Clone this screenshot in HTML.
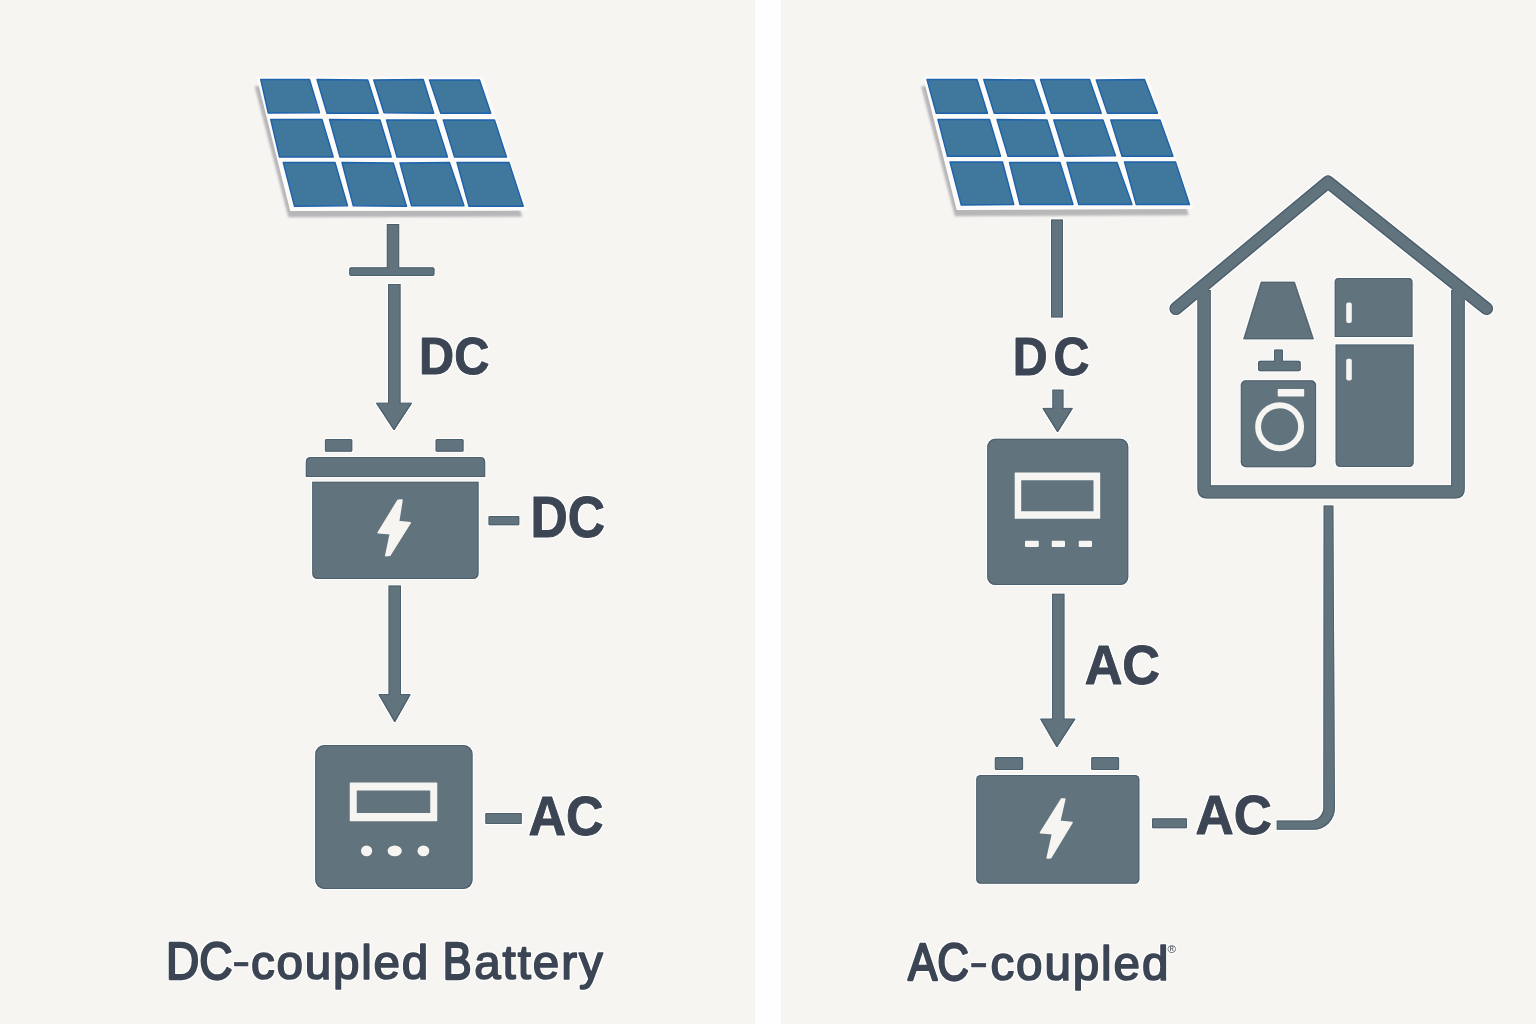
<!DOCTYPE html>
<html lang="en">
<head>
<meta charset="utf-8">
<title>DC-coupled vs AC-coupled Battery</title>
<style>
html,body{margin:0;padding:0;background:#f6f5f2;}
body{width:1536px;height:1024px;overflow:hidden;}
svg{display:block;}
text{font-family:"Liberation Sans",sans-serif;}
</style>
</head>
<body>
<svg width="1536" height="1024" viewBox="0 0 1536 1024">
<defs>
<filter id="soft" x="-10%" y="-10%" width="120%" height="120%"><feGaussianBlur stdDeviation="0.9"/></filter>
<filter id="halo" filterUnits="userSpaceOnUse" x="0" y="0" width="1536" height="1024" color-interpolation-filters="sRGB">
<feMorphology in="SourceAlpha" operator="dilate" radius="1.2" result="d"/>
<feGaussianBlur in="d" stdDeviation="0.7" result="db"/>
<feFlood flood-color="#ffffff" flood-opacity="0.95"/>
<feComposite in2="db" operator="in" result="h"/>
<feMorphology in="SourceAlpha" operator="erode" radius="0.6" result="e"/>
<feGaussianBlur in="e" stdDeviation="0.5" result="eb"/>
<feComposite in="SourceAlpha" in2="eb" operator="out" result="edge"/>
<feFlood flood-color="#3c4f5e" flood-opacity="0.55"/>
<feComposite in2="edge" operator="in" result="ec"/>
<feMerge><feMergeNode in="h"/><feMergeNode in="SourceGraphic"/><feMergeNode in="ec"/></feMerge>
</filter>
<filter id="thalo" filterUnits="userSpaceOnUse" x="0" y="0" width="1536" height="1024" color-interpolation-filters="sRGB">
<feMorphology in="SourceAlpha" operator="dilate" radius="1.2" result="d"/>
<feGaussianBlur in="d" stdDeviation="0.7" result="db"/>
<feFlood flood-color="#ffffff" flood-opacity="0.95"/>
<feComposite in2="db" operator="in" result="h"/>
<feMerge><feMergeNode in="h"/><feMergeNode in="SourceGraphic"/></feMerge>
</filter>
</defs>
<rect x="0" y="0" width="1536" height="1024" fill="#f6f5f2"/>
<rect x="755" y="0" width="26" height="1024" fill="#fefefe"/>
<g id="panels">
<polygon points="255.9,87 475.5,87 521,215.7 289.1,216.2" fill="#b7b6b9" stroke="#b7b6b9" stroke-width="2" stroke-linejoin="round" filter="url(#soft)"/>
<polygon points="258.5,78 481.5,78 525,209 291.5,209.5" fill="#fdfcfa" stroke="#fdfcfa" stroke-width="3.2" stroke-linejoin="round"/>
<polygon points="260.75,79.5 309.5,79.5 319.5,112.75 268.25,113" fill="#40779c" stroke="#1d62ad" stroke-width="1.4" stroke-linejoin="round"/>
<polygon points="317,79.5 367.75,80 378.25,113.25 327,113.25" fill="#40779c" stroke="#1d62ad" stroke-width="1.4" stroke-linejoin="round"/>
<polygon points="373.75,80 423.25,79.5 433.75,113.25 384,112.75" fill="#40779c" stroke="#1d62ad" stroke-width="1.4" stroke-linejoin="round"/>
<polygon points="429.5,80 479.5,80 490.75,113.25 440.75,113.25" fill="#40779c" stroke="#1d62ad" stroke-width="1.4" stroke-linejoin="round"/>
<polygon points="270.75,119.5 322,119.5 333.25,157 279.5,157" fill="#40779c" stroke="#1d62ad" stroke-width="1.4" stroke-linejoin="round"/>
<polygon points="329.5,119.5 380,120 391.25,157 340,157" fill="#40779c" stroke="#1d62ad" stroke-width="1.4" stroke-linejoin="round"/>
<polygon points="386.5,120 435.75,120 447.5,157 397,157" fill="#40779c" stroke="#1d62ad" stroke-width="1.4" stroke-linejoin="round"/>
<polygon points="443.25,120 494.5,120 506.5,157 454.5,157" fill="#40779c" stroke="#1d62ad" stroke-width="1.4" stroke-linejoin="round"/>
<polygon points="283.25,162.5 335,162.5 347.5,205.75 294.5,206.25" fill="#40779c" stroke="#1d62ad" stroke-width="1.4" stroke-linejoin="round"/>
<polygon points="342,162.5 393.25,163 406.5,206.25 353.25,205.75" fill="#40779c" stroke="#1d62ad" stroke-width="1.4" stroke-linejoin="round"/>
<polygon points="400,163 449.5,162.5 464,205.75 411.5,205.75" fill="#40779c" stroke="#1d62ad" stroke-width="1.4" stroke-linejoin="round"/>
<polygon points="457,162.5 509,162.5 523.25,206.25 469,206.25" fill="#40779c" stroke="#1d62ad" stroke-width="1.4" stroke-linejoin="round"/>
<polygon points="922.4,87 1140.5,87 1187.5,214.2 955.6,215.2" fill="#b7b6b9" stroke="#b7b6b9" stroke-width="2" stroke-linejoin="round" filter="url(#soft)"/>
<polygon points="925,78 1146.5,78 1191.5,207.5 958,208.5" fill="#fdfcfa" stroke="#fdfcfa" stroke-width="3.2" stroke-linejoin="round"/>
<polygon points="927,79.5 977,79.5 987.5,113.25 936.25,113.25" fill="#40779c" stroke="#1d62ad" stroke-width="1.4" stroke-linejoin="round"/>
<polygon points="983.75,79.5 1033.75,80 1045,113.25 994.25,113.25" fill="#40779c" stroke="#1d62ad" stroke-width="1.4" stroke-linejoin="round"/>
<polygon points="1040.5,79.5 1089.5,79.5 1101.25,113.25 1051.25,113.25" fill="#40779c" stroke="#1d62ad" stroke-width="1.4" stroke-linejoin="round"/>
<polygon points="1096.25,80 1144.5,79.5 1157.5,113.25 1107.5,113.25" fill="#40779c" stroke="#1d62ad" stroke-width="1.4" stroke-linejoin="round"/>
<polygon points="938,119.5 989.5,119.5 1000.5,156.25 947.5,156.25" fill="#40779c" stroke="#1d62ad" stroke-width="1.4" stroke-linejoin="round"/>
<polygon points="997,119.5 1047,120 1058.25,156.25 1008,156.25" fill="#40779c" stroke="#1d62ad" stroke-width="1.4" stroke-linejoin="round"/>
<polygon points="1053.75,120 1103,120 1115.5,155.75 1065,156.25" fill="#40779c" stroke="#1d62ad" stroke-width="1.4" stroke-linejoin="round"/>
<polygon points="1110.75,120 1160,120 1173,156.25 1122,156.25" fill="#40779c" stroke="#1d62ad" stroke-width="1.4" stroke-linejoin="round"/>
<polygon points="950,162 1002.5,162 1013.75,204.5 961.25,205" fill="#40779c" stroke="#1d62ad" stroke-width="1.4" stroke-linejoin="round"/>
<polygon points="1009.5,162.5 1060,162.5 1073,204.5 1020,204.5" fill="#40779c" stroke="#1d62ad" stroke-width="1.4" stroke-linejoin="round"/>
<polygon points="1067,162.5 1117,162.5 1132,204.5 1078.75,204.5" fill="#40779c" stroke="#1d62ad" stroke-width="1.4" stroke-linejoin="round"/>
<polygon points="1124.5,162 1175.5,162 1189.5,204.5 1136.25,204.5" fill="#40779c" stroke="#1d62ad" stroke-width="1.4" stroke-linejoin="round"/>
</g>
<g id="icons" filter="url(#halo)">
<rect x="386.8" y="224" width="12.4" height="46" fill="#61737d"/>
<rect x="349.2" y="267.2" width="85.3" height="8.7" rx="2" fill="#61737d"/>
<rect x="388" y="284" width="12.6" height="120.3" fill="#61737d"/>
<polygon points="376.4,403.2 411.6,403.2 394,430" fill="#61737d" stroke="#61737d" stroke-width="1" stroke-linejoin="round"/>
<rect x="324.9" y="439" width="27.4" height="12.8" rx="1.5" fill="#61737d"/>
<rect x="435.6" y="439" width="28" height="12.8" rx="1.5" fill="#61737d"/>
<path d="M305.8,477 V462 Q305.8,457 310.8,457 H480.2 Q485.2,457 485.2,462 V477 Z" fill="#61737d"/>
<path d="M312.2,481.8 H478.6 V573 Q478.6,579 472.6,579 H318.2 Q312.2,579 312.2,573 Z" fill="#61737d"/>
<rect x="488.5" y="515.9" width="30.8" height="9.3" rx="1" fill="#61737d"/>
<rect x="388.5" y="585.5" width="12.5" height="110.2" fill="#61737d"/>
<polygon points="378.9,694.6 410.2,694.6 394.75,722" fill="#61737d" stroke="#61737d" stroke-width="1" stroke-linejoin="round"/>
<rect x="315.2" y="745" width="157.4" height="144" rx="9" fill="#61737d"/>
<rect x="485.3" y="813" width="36.5" height="10.9" rx="1" fill="#61737d"/>
<rect x="1051" y="219.5" width="12" height="98" fill="#61737d"/>
<rect x="1052.3" y="389.6" width="11.2" height="19.9" fill="#61737d"/>
<polygon points="1042.9,408.4 1072.4,408.4 1057.6,432" fill="#61737d" stroke="#61737d" stroke-width="1" stroke-linejoin="round"/>
<rect x="987.2" y="438.8" width="141.1" height="146.2" rx="8" fill="#61737d"/>
<rect x="1052" y="593.75" width="12.5" height="126.45" fill="#61737d"/>
<polygon points="1040.6,719.1 1075,719.1 1056.8,747" fill="#61737d" stroke="#61737d" stroke-width="1" stroke-linejoin="round"/>
<rect x="994.8" y="757" width="28.3" height="13" rx="1.5" fill="#61737d"/>
<rect x="1091.2" y="757" width="27.9" height="13" rx="1.5" fill="#61737d"/>
<rect x="976.2" y="775" width="163.2" height="108.75" rx="4.5" fill="#61737d"/>
<rect x="1152" y="818.2" width="35" height="10" rx="1" fill="#61737d"/>
<path d="M1276.7,820.5 H1310.3 A13,13 0 0 0 1323.3,807.5 L1323.6,505.5 H1333.4 L1335,808 A21.8,21.8 0 0 1 1313.2,829.8 H1276.7 Z" fill="#61737d"/>
<path d="M1176,308.5 L1328,182 L1486.5,308.5" fill="none" stroke="#61737d" stroke-width="13.1" stroke-linecap="round" stroke-linejoin="round"/>
<path d="M1197.4,290 H1210.8 V485.2 H1451.1 V290 H1464.8 V489 Q1464.8,498.5 1455.3,498.5 H1206.9 Q1197.4,498.5 1197.4,489 Z" fill="#61737d"/>
<polygon points="1261.1,282 1294.5,282 1313.5,339 1243.6,339" fill="#61737d" stroke="#61737d" stroke-width="0.6" stroke-linejoin="round"/>
<rect x="1274" y="349.5" width="9" height="12.5" rx="1" fill="#61737d"/>
<rect x="1258" y="360.75" width="42.75" height="10.5" rx="2" fill="#61737d"/>
<rect x="1240.8" y="380.2" width="75.3" height="87" rx="5" fill="#61737d"/>
<path d="M1334.7,337 V282 Q1334.7,278 1338.7,278 H1408.5 Q1412.5,278 1412.5,282 V337 Z" fill="#61737d"/>
<path d="M1335.6,344.5 H1413.7 V462 Q1413.7,467 1408.7,467 H1340.6 Q1335.6,467 1335.6,462 Z" fill="#61737d"/>
</g>
<g id="details">
<polygon points="398.1,500.2 402,500 398.6,521.5 410.2,522.9 389.8,555.3 385.8,555.6 390.4,533.6 378.2,532.6" fill="#f6f5f2" stroke="#f6f5f2" stroke-width="1.6" stroke-linejoin="round"/>
<rect x="349.75" y="782.5" width="87.5" height="38.75" rx="0.5" fill="#f6f5f2"/>
<rect x="356.75" y="790.4" width="73.5" height="22.7" rx="0.5" fill="#61737d"/>
<ellipse cx="366.6" cy="850.9" rx="5.6" ry="5.4" fill="#f6f5f2"/>
<ellipse cx="394.7" cy="850.9" rx="7.1" ry="5.4" fill="#f6f5f2"/>
<ellipse cx="423.4" cy="850.9" rx="5.9" ry="5.4" fill="#f6f5f2"/>
<rect x="1014.7" y="472.4" width="85.5" height="46.35" rx="0.5" fill="#f6f5f2"/>
<rect x="1021.2" y="480.3" width="72.3" height="31" rx="0.5" fill="#61737d"/>
<rect x="1025" y="540.75" width="13.75" height="6.25" rx="1" fill="#f6f5f2"/>
<rect x="1051.75" y="540.75" width="13.25" height="6.25" rx="1" fill="#f6f5f2"/>
<rect x="1078.75" y="540.75" width="13.25" height="6.25" rx="1" fill="#f6f5f2"/>
<polygon points="1061.6,799 1064.8,799 1059.7,821.2 1072,822.5 1050.8,857.6 1047.2,858 1052.6,833.6 1040.5,832.6" fill="#f6f5f2" stroke="#f6f5f2" stroke-width="1.6" stroke-linejoin="round"/>
<rect x="1277.7" y="389" width="26.5" height="7.5" rx="1" fill="#f6f5f2"/>
<circle cx="1279.6" cy="426.7" r="21.5" fill="none" stroke="#f6f5f2" stroke-width="5.9"/>
<rect x="1346.2" y="302.5" width="5.6" height="20.5" rx="2" fill="#f6f5f2"/>
<rect x="1346.2" y="358.75" width="5.6" height="21.75" rx="2" fill="#f6f5f2"/>
</g>
<g id="labels" filter="url(#thalo)">
<text y="373.68" font-weight="bold" fill="#3c4553"><tspan x="419.12" font-size="51.97" textLength="70.22" lengthAdjust="spacingAndGlyphs" stroke="#3c4553" stroke-width="1" stroke-linejoin="round">DC</tspan></text>
<text y="537.13" font-weight="bold" fill="#3c4553"><tspan x="530.44" font-size="56.90" textLength="74.49" lengthAdjust="spacingAndGlyphs" stroke="#3c4553" stroke-width="1" stroke-linejoin="round">DC</tspan></text>
<text y="835.19" font-weight="bold" fill="#3c4553"><tspan x="528.54" font-size="56.41" textLength="75.06" lengthAdjust="spacingAndGlyphs" stroke="#3c4553" stroke-width="1" stroke-linejoin="round">AC</tspan></text>
<text y="374.86" font-weight="bold" fill="#3c4553"><tspan x="1012.85" font-size="54.23" textLength="34.88" lengthAdjust="spacingAndGlyphs" stroke="#3c4553" stroke-width="1" stroke-linejoin="round">D</tspan><tspan x="1053.50" font-size="54.23" textLength="35.97" lengthAdjust="spacingAndGlyphs" stroke="#3c4553" stroke-width="1" stroke-linejoin="round">C</tspan></text>
<text y="683.74" font-weight="bold" fill="#3c4553"><tspan x="1084.63" font-size="56.41" textLength="75.47" lengthAdjust="spacingAndGlyphs" stroke="#3c4553" stroke-width="1" stroke-linejoin="round">AC</tspan></text>
<text y="833.54" font-weight="bold" fill="#3c4553"><tspan x="1195.62" font-size="55.77" textLength="76.29" lengthAdjust="spacingAndGlyphs" stroke="#3c4553" stroke-width="1" stroke-linejoin="round">AC</tspan></text>
<text y="979.40" font-weight="normal" fill="#3c4553"><tspan x="166.00" font-size="51.00" textLength="66.58" lengthAdjust="spacingAndGlyphs" stroke="#3c4553" stroke-width="2.3" stroke-linejoin="round">DC</tspan><tspan x="231.90" dy="-2" font-size="47.60" textLength="18.35" lengthAdjust="spacingAndGlyphs" stroke="#3c4553" stroke-width="0.7" stroke-linejoin="round">-</tspan><tspan x="251.04" dy="2" font-size="47.60" letter-spacing="1.752" stroke="#3c4553" stroke-width="1.7" stroke-linejoin="round">coupled</tspan> <tspan x="442.72" font-size="51.00" textLength="28.86" lengthAdjust="spacingAndGlyphs" stroke="#3c4553" stroke-width="2.3" stroke-linejoin="round">B</tspan><tspan x="474.24" font-size="47.60" letter-spacing="1.890" stroke="#3c4553" stroke-width="1.7" stroke-linejoin="round">attery</tspan></text>
<text y="979.50" font-weight="normal" fill="#3c4553"><tspan x="908.09" font-size="51.00" textLength="60.98" lengthAdjust="spacingAndGlyphs" stroke="#3c4553" stroke-width="2.3" stroke-linejoin="round">AC</tspan><tspan x="969.33" dy="-2" font-size="47.60" textLength="18.98" lengthAdjust="spacingAndGlyphs" stroke="#3c4553" stroke-width="0.7" stroke-linejoin="round">-</tspan><tspan x="990.44" dy="2" font-size="47.60" letter-spacing="1.869" stroke="#3c4553" stroke-width="1.7" stroke-linejoin="round">coupled</tspan></text>
<text x="1167.4" y="953.3" font-size="11.5" font-weight="normal" fill="#3c4553">®</text>
</g>
</svg>
</body>
</html>
